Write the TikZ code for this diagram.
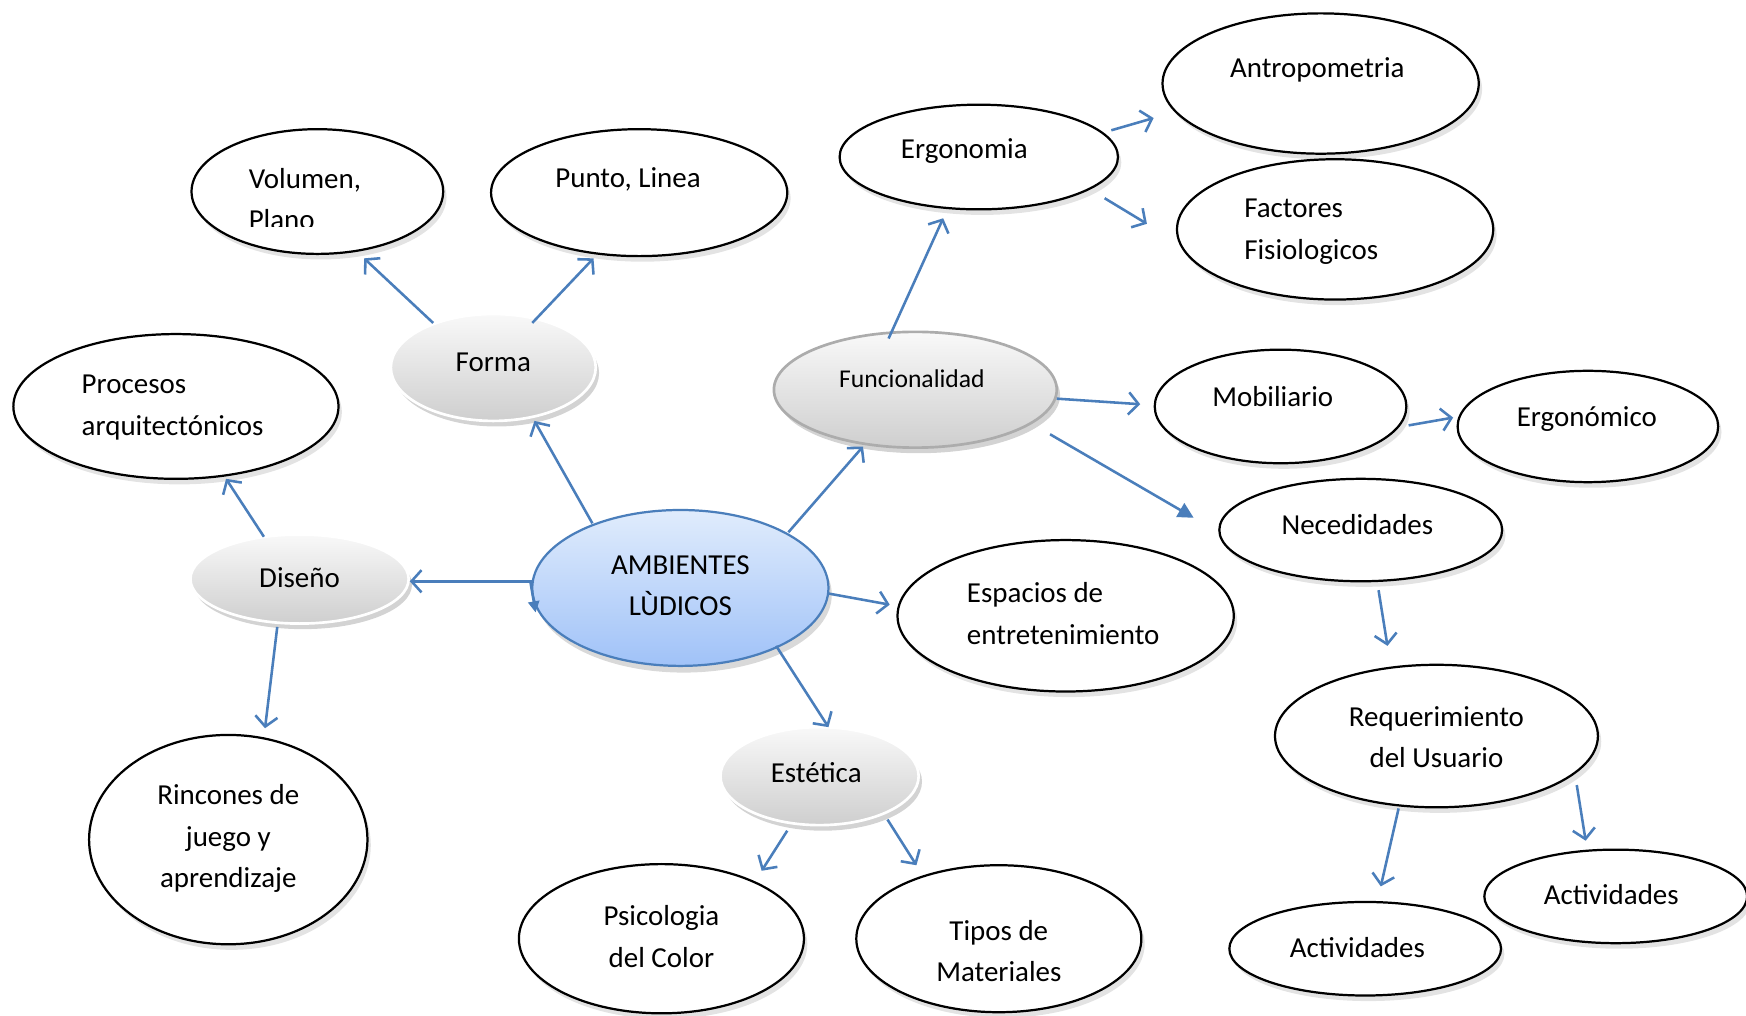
\documentclass[tikz,border=0pt]{standalone}
\usepackage{fontspec}
\setmainfont{Carlito}
\usetikzlibrary{shapes.geometric,arrows.meta,shadows,calc}
\definecolor{lnblue}{RGB}{74,126,187}
\definecolor{ctop}{RGB}{224,236,252}
\definecolor{cbot}{RGB}{160,194,248}
\begin{document}
\begin{tikzpicture}[x=0.5pt,y=-0.5pt,
  sz/.style 2 args={minimum width=#1pt, minimum height=#2pt},
  ov/.style={ellipse, draw=black, line width=1pt, fill=white, inner sep=0pt,
    drop shadow={opacity=0.22, shadow xshift=1.5pt, shadow yshift=-2.5pt}},
  grey/.style={ellipse, draw=white, line width=1.2pt, inner sep=0pt,
    top color=gray!5, bottom color=gray!38,
    drop shadow={opacity=0.35, shadow xshift=1.5pt, shadow yshift=-2.5pt}},
  core/.style={ellipse, draw=lnblue, line width=1pt, inner sep=0pt,
    top color=ctop, bottom color=cbot,
    drop shadow={opacity=0.3, shadow xshift=1.5pt, shadow yshift=-3pt}},
  txt/.style={font=\fontsize{13}{18.5}\selectfont, align=center, inner sep=0pt},
  txtl/.style={font=\fontsize{13}{18.5}\selectfont, align=left, anchor=west, inner sep=0pt},
  arr/.style={draw=lnblue, line width=1.15pt, -{Straight Barb[length=4.5pt,width=10pt]}},
  arrf/.style={draw=lnblue, line width=1.15pt, -{Triangle[length=7pt,width=7pt]}}
]
\useasboundingbox (0,0) rectangle (1568,912);

% ---------- ellipses ----------
\node[core, sz={133}{70}] (amb) at (611,528) {};
\node[grey, sz={92}{48}] (forma) at (443,330) {};
\node[grey, sz={127}{52}, draw=gray!65] (func) at (822,350) {};
\node[grey, sz={98}{40}] (dis) at (269,520) {};
\node[grey, sz={89}{44}] (est) at (736,697) {};

\node[ov, sz={113}{56}] (vol) at (285,172) {};
\node[ov, sz={133}{57}] (punto) at (574,173) {};
\node[ov, sz={146}{65}] (proc) at (158,365) {};
\node[ov, sz={125}{94}] (rinc) at (205,754) {};
\node[ov, sz={125}{47}] (ergo) at (879,141) {};
\node[ov, sz={142}{63}] (antro) at (1186,75) {};
\node[ov, sz={142}{63}] (fact) at (1199,206) {};
\node[ov, sz={113}{51}] (mob) at (1150,365) {};
\node[ov, sz={117}{50}] (ergon) at (1426,383) {};
\node[ov, sz={127}{46}] (nec) at (1222,476) {};
\node[ov, sz={151}{68}] (esp) at (957,553) {};
\node[ov, sz={145}{64}] (req) at (1290,661) {};
\node[ov, sz={122}{42}] (actL) at (1226,852) {};
\node[ov, sz={118}{42}] (actR) at (1451,805) {};
\node[ov, sz={128}{67}] (psi) at (594,843) {};
\node[ov, sz={128}{66}] (tipos) at (897,843) {};

% ---------- texts ----------
\node[txt] (amb-t) at (611,526) {AMBIENTES\\LÙDICOS};
\node[txt] (forma-t) at (443,325) {Forma};
\node[txt, font=\fontsize{11.5}{14}\selectfont] (func-t) at (819,340) {Funcionalidad};
\node[txt] (dis-t) at (269,519) {Diseño};
\node[txt] (est-t) at (733,694) {Estética};
\begin{scope}
  \clip (150,100) rectangle (420,203);
  \node[txtl] (vol-t) at (223,179) {Volumen,\\Plano};
\end{scope}
\node[txt] (punto-t) at (564,161) {Punto, Linea};
\node[txtl] (proc-t) at (73,366) {Procesos\\arquitectónicos};
\node[txt] (rinc-t) at (205,753) {Rincones de\\juego y\\aprendizaje};
\node[txt] (ergo-t) at (866,136) {Ergonomia};
\node[txt] (antro-t) at (1183,63) {Antropometria};
\node[txtl] (fact-t) at (1117,208) {Factores\\Fisiologicos};
\node[txt] (mob-t) at (1143,356) {Mobiliario};
\node[txt] (ergon-t) at (1425,376) {Ergonómico};
\node[txt] (nec-t) at (1219,471) {Necedidades};
\node[txtl] (esp-t) at (868,551) {Espacios de\\entretenimiento};
\node[txt] (req-t) at (1290,662) {Requerimiento\\del Usuario};
\node[txt] (actL-t) at (1219,851) {Actividades};
\node[txt] (actR-t) at (1447,803) {Actividades};
\node[txt] (psi-t) at (594,841) {Psicologia\\del Color};
\node[txt] (tipos-t) at (897,854) {Tipos de\\Materiales};

% ---------- connectors ----------
\draw[arr] ($(forma)+(-54,-40)$) -- ($(vol)+(42,60)$);
\draw[arr] ($(forma)+(35,-40)$) -- ($(punto)+(-41,59)$);
\draw[arr] ($(amb)+(-79,-58)$) -- ($(forma)+(37,48)$);
\draw[arr] ($(amb)+(-131,-6)$) -- ($(dis)+(99,2)$);
\draw[draw=lnblue, line width=1.1pt, -{Triangle[length=5pt,width=5pt]}] ($(amb)+(-135,-7)$) -- ($(amb)+(-130,22)$);
\draw[arr] ($(dis)+(-32,-38)$) -- ($(proc)+(45,65)$);
\draw[arr] ($(dis)+(-20,43)$) -- ($(rinc)+(33,-100)$);
\draw[arr] ($(amb)+(97,-50)$) -- ($(func)+(-47,51)$);
\draw[arr] ($(func)+(-24,-46)$) -- ($(ergo)+(-32,55)$);
\draw[arr] ($(ergo)+(119,-24)$) -- ($(antro)+(-150,31)$);
\draw[arr] ($(ergo)+(113,37)$) -- ($(fact)+(-169,-5)$);
\draw[arr] ($(func)+(127,8)$) -- ($(mob)+(-126,-2)$);
\draw[arr] ($(mob)+(115,17)$) -- ($(ergon)+(-121,-8)$);
\draw[arrf] ($(func)+(121,40)$) -- ($(nec)+(-150,-11)$);
\draw[arr] ($(nec)+(16,54)$) -- ($(req)+(-44,-81)$);
\draw[arr] ($(amb)+(133,5)$) -- ($(esp)+(-158,-10)$);
\draw[arr] ($(amb)+(86,52)$) -- ($(est)+(8,-44)$);
\draw[arr] ($(est)+(-29,49)$) -- ($(psi)+(90,-61)$);
\draw[arr] ($(est)+(61,39)$) -- ($(tipos)+(-74,-66)$);
\draw[arr] ($(req)+(-34,65)$) -- ($(actL)+(14,-56)$);
\draw[arr] ($(req)+(126,44)$) -- ($(actR)+(-27,-50)$);
\end{tikzpicture}
\end{document}
